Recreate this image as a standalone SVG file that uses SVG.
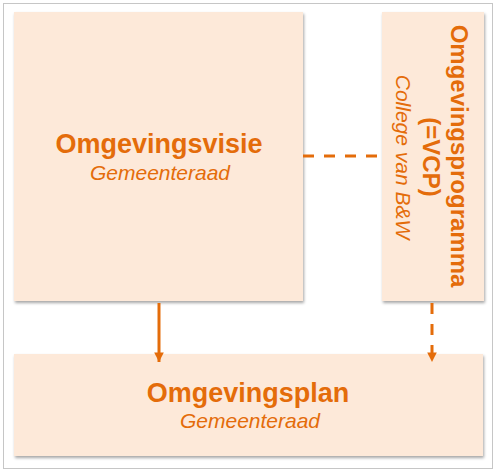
<svg xmlns="http://www.w3.org/2000/svg" width="495" height="472" viewBox="0 0 495 472">
<style>
.box{fill:#FDE9D9;filter:url(#sh);}
.t{font-family:"Liberation Sans",Arial,sans-serif;fill:#E46C0A;text-anchor:middle;}
.b{font-weight:bold;font-size:27px;}
.i{font-style:italic;font-size:21px;}
.c{stroke:#E46C0A;stroke-width:3;fill:none;}
.d{stroke-dasharray:11 10;}
</style>
<defs>
<filter id="sh" x="-10%" y="-10%" width="120%" height="120%">
<feDropShadow dx="1" dy="2" stdDeviation="1.5" flood-color="#000" flood-opacity="0.35"/>
</filter>
<marker id="ah" viewBox="0 0 10 10" refX="10" refY="5" markerWidth="3.2" markerHeight="3.2" orient="auto" markerUnits="strokeWidth">
<path d="M0,0 L10,5 L0,10 Z" fill="#E46C0A"/>
</marker>
</defs>
<rect x="3.5" y="3.5" width="489" height="465" fill="#fff" stroke="#C6C6C6" stroke-width="1"/>
<g id="omgevingsvisie">
<rect class="box" x="14" y="12" width="289" height="289"/>
<text class="t b" x="159" y="153">Omgevingsvisie</text>
<text class="t i" x="160" y="180">Gemeenteraad</text>
</g>
<g id="omgevingsprogramma">
<rect class="box" x="382" y="12" width="102" height="289"/>
<g transform="translate(0,156) rotate(90)">
<text class="t" style="font-weight:bold;font-size:24px" x="0" y="-451">Omgevingsprogramma</text>
<text class="t" style="font-weight:bold;font-size:24px" x="1" y="-423">(=VCP)</text>
<text class="t i" x="1" y="-396">College van B&amp;W</text>
</g>
</g>
<g id="omgevingsplan">
<rect class="box" x="14" y="354" width="469" height="102"/>
<text class="t b" x="248" y="402">Omgevingsplan</text>
<text class="t i" x="250" y="428">Gemeenteraad</text>
</g>
<g id="connectors">
<line class="c" x1="159" y1="303" x2="159" y2="362" marker-end="url(#ah)"/>
<line class="c d" x1="432" y1="303" x2="432" y2="362" marker-end="url(#ah)"/>
<line class="c d" x1="303" y1="156" x2="382" y2="156"/>
</g>
</svg>
